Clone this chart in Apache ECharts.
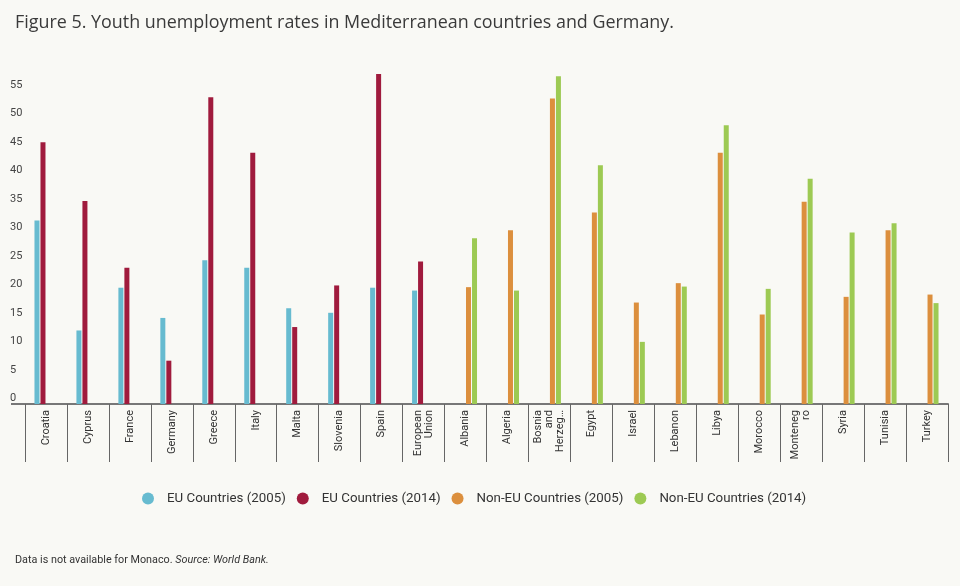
<!DOCTYPE html>
<html>
<head>
<meta charset="utf-8">
<script src="https://cdn.jsdelivr.net/npm/echarts@6/dist/echarts.min.js"></script>
<style>
html,body{margin:0;padding:0;background:#f9f9f5;}
#chart{width:960px;height:586px;}
</style>
</head>
<body>
<div id="chart"></div>
<script>
var categories = ['Croatia','Cyprus','France','Germany','Greece','Italy','Malta','Slovenia','Spain','European\nUnion','Albania','Algeria','Bosnia\nand\nHerzeg\u2026','Egypt','Israel','Lebanon','Libya','Morocco','Monteneg\nro','Syria','Tunisia','Turkey'];
var seriesNames = ['EU Countries (2005)','EU Countries (2014)','Non-EU Countries (2005)','Non-EU Countries (2014)'];
var eu2005 = [32.2,12.9,20.4,15.1,25.2,23.9,16.8,16.0,20.4,19.9,null,null,null,null,null,null,null,null,null,null,null,null];
var eu2014 = [45.9,35.6,23.9,7.6,53.8,44.1,13.5,20.8,57.9,25.0,null,null,null,null,null,null,null,null,null,null,null,null];
var nonEu2005 = [null,null,null,null,null,null,null,null,null,null,20.5,30.5,53.6,33.6,17.8,21.2,44.1,15.7,35.5,18.8,30.5,19.2];
var nonEu2014 = [null,null,null,null,null,null,null,null,null,null,29.1,19.9,57.5,41.9,10.9,20.6,48.9,20.2,39.5,30.1,31.7,17.7];
var colors = ['#67bbd0','#a01b3d','#dc8f3d','#9dca53'];

var labelFont = "'Liberation Sans Narrow', 'Roboto', sans-serif";
var chart = echarts.init(document.getElementById('chart'));
var values = [eu2005, eu2014, nonEu2005, nonEu2014];
var series = values.map(function (d, i) {
  return {
    name: seriesNames[i],
    type: 'bar',
    data: d,
    barWidth: 5,
    barGap: '20%',
    itemStyle: { color: colors[i] },
    emphasis: { disabled: true }
  };
});

chart.setOption({
  backgroundColor: '#f9f9f5',
  animation: false,
  color: colors,
  title: [{
    text: 'Figure 5. Youth unemployment rates in Mediterranean countries and Germany.',
    left: 10, top: 9,
    textStyle: { fontFamily: "'Open Sans', sans-serif", fontSize: 17.9, fontWeight: 'normal', color: '#3a3a3a' }
  }, {
    text: '{a|Data is not available for Monaco. }{b|Source: World Bank.}',
    left: 10, top: 550,
    textStyle: {
      fontWeight: 'normal',
      rich: {
        a: { fontFamily: labelFont, fontSize: 10.8, fontWeight: 'normal', color: '#333' },
        b: { fontFamily: labelFont, fontSize: 10.8, fontWeight: 'normal', color: '#333', fontStyle: 'italic' }
      }
    }
  }],
  legend: {
    data: seriesNames,
    top: 487,
    left: 137,
    icon: 'circle',
    itemWidth: 28,
    itemHeight: 12,
    itemGap: 11,
    textStyle: { fontFamily: labelFont, fontSize: 13.3, color: '#333' }
  },
  grid: { left: 25, right: 12, top: 62, bottom: 182, containLabel: false },
  xAxis: {
    type: 'category',
    data: categories,
    axisLine: { show: true, lineStyle: { color: '#777', width: 2 } },
    axisTick: { show: true, length: 58, alignWithLabel: false, lineStyle: { color: '#666', width: 1 } },
    axisLabel: { rotate: 90, margin: 6, interval: 0, fontFamily: labelFont, fontSize: 11, color: '#333', lineHeight: 11 }
  },
  yAxis: {
    type: 'value',
    min: 0, max: 60, interval: 5,
    splitLine: { show: false },
    axisLine: { show: false },
    axisTick: { show: false },
    axisLabel: { showMaxLabel: false, align: 'left', margin: 15, verticalAlign: 'bottom', fontFamily: labelFont, fontSize: 11, color: '#444' }
  },
  series: series
});

var p0 = chart.convertToPixel({ gridIndex: 0 }, [0, 0]);
chart.setOption({
  graphic: [{
    type: 'line',
    shape: { x1: 11, y1: Math.round(p0[1]), x2: 26, y2: Math.round(p0[1]) },
    style: { stroke: '#777', lineWidth: 2 },
    silent: true
  }]
});
</script>
</body>
</html>
